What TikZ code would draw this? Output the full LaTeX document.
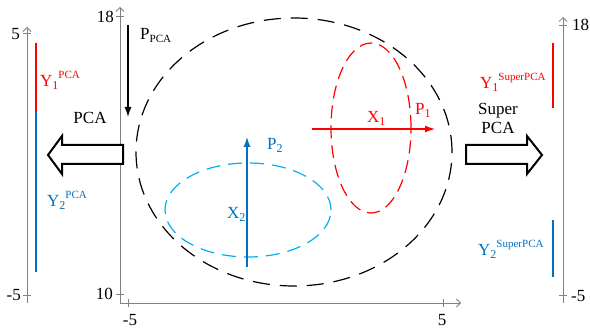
\documentclass[tikz,border=0pt]{standalone}
\usepackage{fontspec}
\setmainfont{Liberation Serif}
\usetikzlibrary{arrows.meta}
\definecolor{pcared}{HTML}{FF0000}
\definecolor{pcablue}{HTML}{0070C0}
\definecolor{pcacyan}{HTML}{00B0F0}
\newcommand\sbs[1]{\raisebox{-3pt}{\fontsize{12}{12}\selectfont #1}}
\newcommand\sps[1]{\raisebox{8pt}{\fontsize{11}{11}\selectfont #1}}

\begin{document}
\begin{tikzpicture}[x=1pt,y=-1pt,
txt/.style={inner sep=0pt,font=\fontsize{17}{19}\selectfont},
lbl/.style={txt,anchor=base west},
axisline/.style={gray,line width=.8pt},
axisarr/.style={axisline,-{Straight Barb[length=4pt,width=8pt]}},
arr/.style={-{Latex[length=10pt,width=7pt]},line width=1.3pt},
bigarrow/.style={draw,line width=2pt,fill=white,line join=miter},
ell/.style={line width=1.2pt}]
\useasboundingbox (0,0) rectangle (590,334);
% axes
\coordinate (lb) at (27,303);\coordinate (lt) at (27,27);
\coordinate (o) at (120,303);\coordinate (vt) at (120,7);\coordinate (ht) at (461,303);
\coordinate (rb) at (563,303);\coordinate (rt) at (563,17);
\draw[axisarr](lb)--(lt);
\draw[axisarr](o)--(vt);
\draw[axisarr](o)--(ht);
\draw[axisarr](rb)--(rt);
\foreach \x/\y in {27/33,27/295,120/16,120/294,563/25,563/295}
  \draw[axisline](\x-4,\y)--(\x+4,\y);
\foreach \x in {128,443}
  \draw[axisline](\x,299)--(\x,307);
\node[txt,anchor=east](l5) at (20,34){5};
\node[txt,anchor=east](lm5) at (21,295){-5};
\node[txt,anchor=east](v18) at (114,17){18};
\node[txt,anchor=east](v10) at (113,294){10};
\node[txt,anchor=north](hm5) at (130,314){-5};
\node[txt,anchor=north](h5) at (442,314){5};
\node[txt,anchor=west](r18) at (572,25){18};
\node[txt,anchor=west](rm5) at (571,296){-5};
% projections
\draw[pcared,line width=1.8pt](36,43)--(36,112);
\draw[pcablue,line width=1.8pt](36,112)--(36,272);
\draw[pcared,line width=1.8pt](553,43)--(553,108);
\draw[pcablue,line width=1.8pt](553,220)--(553,277);
\node[lbl,text=pcared](y1) at (40,87){Y\sbs{1}\sps{PCA}};
\node[lbl,text=pcablue](y2) at (47,207){Y\sbs{2}\sps{PCA}};
\node[lbl,text=pcared](sy1) at (480,89){Y\sbs{1}\sps{SuperPCA}};
\node[lbl,text=pcablue](sy2) at (478,256){Y\sbs{2}\sps{SuperPCA}};
% ellipses
\draw[ell,dash pattern=on 17pt off 10pt](294,152) ellipse [x radius=158pt,y radius=134pt];
\draw[ell,pcared,dash pattern=on 13pt off 7pt](371,128) ellipse [x radius=40pt,y radius=85pt];
\draw[ell,pcacyan,dash pattern=on 14pt off 8pt](248,210) ellipse [x radius=83pt,y radius=47pt];
% directions
\coordinate (ppa) at (128,25);\coordinate (ppb) at (128,117);
\draw[arr](ppa)--(ppb);
\node[lbl](ppca) at (140,40){P\raisebox{-3pt}{\fontsize{11}{11}\selectfont PCA}};
\coordinate (p1a) at (312,129);\coordinate (p1b) at (435,129);
\draw[arr,pcared](p1a)--(p1b);
\node[lbl,text=pcared](x1) at (367,123){X\sbs{1}};
\node[lbl,text=pcared](p1) at (415,115){P\sbs{1}};
\coordinate (p2a) at (247,267);\coordinate (p2b) at (247,137);
\draw[arr,pcablue](p2a)--(p2b);
\node[lbl,text=pcablue](p2) at (267,150){P\sbs{2}};
\node[lbl,text=pcablue](x2) at (227,219){X\sbs{2}};
% big arrows
\draw[bigarrow](123,145)--(62,145)--(62,136)--(48,155)--(62,174)--(62,164)--(123,164)--cycle;
\node[txt](pca) at (90,118){PCA};
\draw[bigarrow](466,145)--(527,145)--(527,136)--(542,155)--(527,174)--(527,164)--(466,164)--cycle;
\node[txt,align=center](spca) at (498,118){Super\\PCA};
\end{tikzpicture}
\end{document}
